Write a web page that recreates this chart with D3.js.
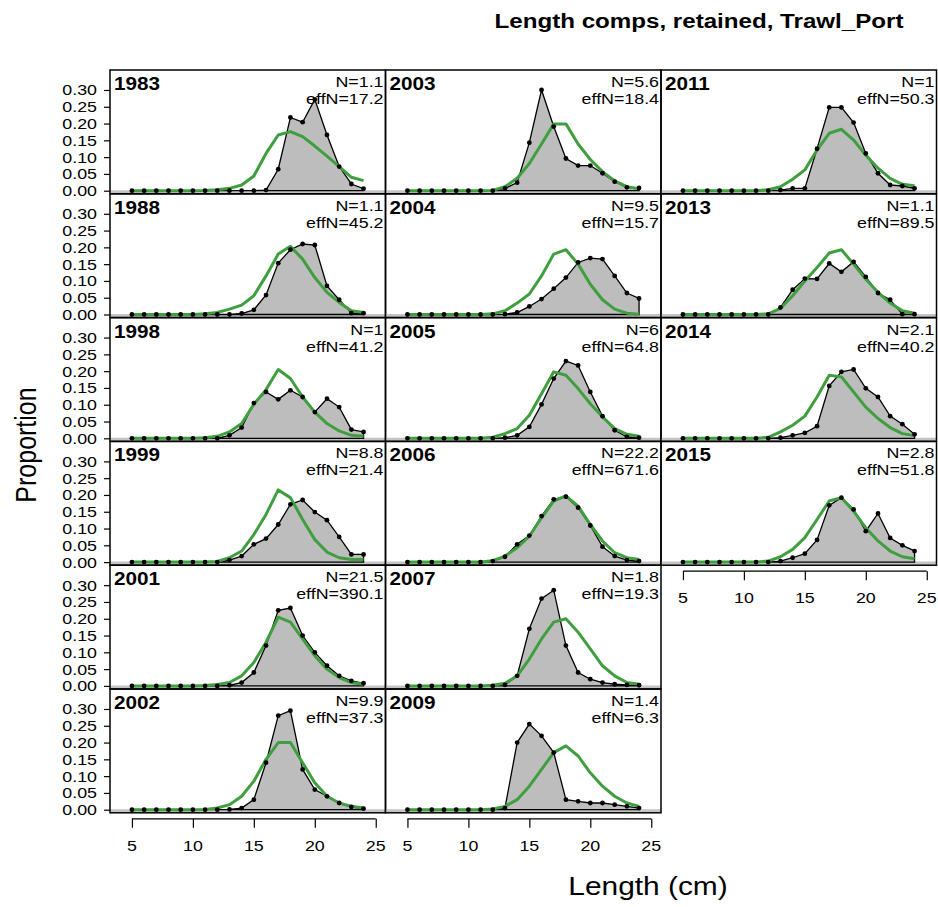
<!DOCTYPE html>
<html><head><meta charset="utf-8">
<script src="https://cdn.jsdelivr.net/npm/d3@7"></script>
<style>body{margin:0;background:#fff}</style>
</head><body>
<svg id="c" width="938" height="907"></svg>
<script>
// ---------- data ----------
const lengths = [5,6,7,8,9,10,11,12,13,14,15,16,17,18,19,20,21,22,23,24];
const yTicks = [0,0.05,0.10,0.15,0.20,0.25,0.30];
const xTicks = [5,10,15,20,25];
const years = [1983,1988,1998,1999,2001,2002,2003,2004,2005,2006,2007,2009,2011,2013,2014,2015];
const nLabels = ["1.1","1.1","1","8.8","21.5","9.9","5.6","9.5","6","22.2","1.8","1.4","1","1.1","2.1","2.8"];
const effNLabels = ["17.2","45.2","41.2","21.4","390.1","37.3","18.4","15.7","64.8","671.6","19.3","6.3","50.3","89.5","40.2","51.8"];
const panelCol = [0,0,0,0,0,0,1,1,1,1,1,1,2,2,2,2];
const panelRow = [0,1,2,3,4,5,0,1,2,3,4,5,0,1,2,3];

const obs1983 = [0,0,0,0,0,0,0,0,0,0,0,0.002,0.064,0.218,0.204,0.272,0.166,0.072,0.020,0.006];
const exp1983 = [0,0,0,0,0,0,0.001,0.003,0.007,0.017,0.044,0.111,0.166,0.176,0.161,0.133,0.103,0.072,0.040,0.030];
const obs1988 = [0,0,0,0,0,0,0,0,0,0.003,0.014,0.058,0.153,0.193,0.210,0.207,0.085,0.044,0.004,0.004];
const exp1988 = [0,0,0,0,0,0,0.002,0.006,0.016,0.028,0.056,0.115,0.180,0.203,0.165,0.110,0.066,0.036,0.011,0.006];
const obs1998 = [0,0,0,0,0,0,0,0,0.009,0.032,0.105,0.138,0.116,0.143,0.123,0.078,0.118,0.093,0.026,0.019];
const exp1998 = [0,0,0,0,0,0,0.002,0.006,0.019,0.044,0.101,0.145,0.205,0.178,0.123,0.078,0.044,0.022,0.009,0.006];
const obs1999 = [0,0,0,0,0,0,0,0,0.006,0.018,0.053,0.070,0.112,0.172,0.185,0.149,0.125,0.075,0.023,0.023];
const exp1999 = [0,0,0,0,0,0,0,0.002,0.013,0.033,0.082,0.142,0.215,0.192,0.127,0.067,0.030,0.013,0.008,0.008];
const obs2001 = [0,0,0,0,0,0,0,0,0.002,0.010,0.040,0.120,0.225,0.232,0.150,0.100,0.060,0.030,0.015,0.008];
const exp2001 = [0,0,0,0,0,0,0.001,0.004,0.010,0.030,0.070,0.130,0.205,0.190,0.140,0.090,0.050,0.025,0.010,0.005];
const obs2002 = [0,0,0,0,0,0,0,0,0.001,0.005,0.030,0.140,0.280,0.295,0.120,0.060,0.040,0.020,0.008,0.003];
const exp2002 = [0,0,0,0,0,0,0.001,0.005,0.015,0.040,0.085,0.150,0.200,0.200,0.140,0.080,0.040,0.020,0.010,0.005];
const obs2003 = [0,0,0,0,0,0,0,0,0.007,0.024,0.143,0.300,0.191,0.096,0.075,0.075,0.052,0.027,0.010,0.008];
const exp2003 = [0,0,0,0,0,0,0,0.001,0.012,0.037,0.081,0.139,0.199,0.199,0.139,0.093,0.057,0.029,0.012,0.006];
const obs2004 = [0,0,0,0,0,0,0,0,0.001,0.006,0.024,0.046,0.077,0.110,0.155,0.168,0.165,0.115,0.064,0.048];
const exp2004 = [0,0,0,0,0,0,0,0.002,0.011,0.034,0.061,0.115,0.180,0.193,0.150,0.090,0.044,0.016,0.004,0.001];
const obs2005 = [0,0,0,0,0,0,0,0,0.002,0.009,0.034,0.101,0.178,0.230,0.217,0.138,0.066,0.024,0.004,0.002];
const exp2005 = [0,0,0,0,0,0,0,0.003,0.014,0.029,0.069,0.133,0.198,0.188,0.148,0.103,0.064,0.029,0.012,0.006];
const obs2006 = [0,0,0,0,0,0,0,0.003,0.016,0.053,0.079,0.137,0.187,0.195,0.162,0.109,0.046,0.018,0.006,0.003];
const exp2006 = [0,0,0,0,0,0,0,0.004,0.018,0.043,0.077,0.132,0.182,0.197,0.167,0.112,0.063,0.028,0.013,0.008];
const obs2007 = [0,0,0,0,0,0,0,0,0.003,0.030,0.170,0.260,0.285,0.120,0.040,0.020,0.010,0.005,0.003,0.002];
const exp2007 = [0,0,0,0,0,0,0,0.002,0.008,0.030,0.080,0.140,0.190,0.200,0.160,0.110,0.060,0.030,0.010,0.005];
const obs2009 = [0,0,0,0,0,0,0,0,0.005,0.200,0.255,0.220,0.170,0.030,0.025,0.020,0.020,0.015,0.010,0.005];
const exp2009 = [0,0,0,0,0,0,0,0.002,0.010,0.030,0.070,0.120,0.170,0.190,0.160,0.110,0.070,0.040,0.020,0.010];
const obs2011 = [0,0,0,0,0,0,0,0,0.002,0.007,0.007,0.125,0.248,0.248,0.203,0.111,0.052,0.017,0.014,0.007];
const exp2011 = [0,0,0,0,0,0,0,0.003,0.012,0.034,0.062,0.121,0.171,0.183,0.151,0.106,0.067,0.037,0.019,0.015];
const obs2013 = [0,0,0,0,0,0,0,0,0.021,0.074,0.107,0.106,0.152,0.127,0.157,0.112,0.064,0.044,0.001,0.001];
const exp2013 = [0,0,0,0,0,0,0,0.002,0.018,0.056,0.100,0.140,0.183,0.193,0.150,0.105,0.066,0.034,0.011,0.004];
const obs2014 = [0,0,0,0,0,0,0,0,0.002,0.009,0.016,0.036,0.156,0.198,0.205,0.149,0.123,0.066,0.042,0.012];
const exp2014 = [0,0,0,0,0,0,0,0.003,0.019,0.039,0.066,0.123,0.188,0.183,0.138,0.093,0.059,0.032,0.014,0.008];
const obs2015 = [0,0,0,0,0,0,0,0,0.003,0.013,0.025,0.066,0.169,0.192,0.157,0.092,0.145,0.072,0.050,0.033];
const exp2015 = [0,0,0,0,0,0,0,0.003,0.016,0.038,0.073,0.127,0.182,0.192,0.152,0.102,0.063,0.033,0.016,0.010];

const obsList = [obs1983,obs1988,obs1998,obs1999,obs2001,obs2002,obs2003,obs2004,obs2005,obs2006,obs2007,obs2009,obs2011,obs2013,obs2014,obs2015];
const expList = [exp1983,exp1988,exp1998,exp1999,exp2001,exp2002,exp2003,exp2004,exp2005,exp2006,exp2007,exp2009,exp2011,exp2013,exp2014,exp2015];

// ---------- layout ----------
const svg = d3.select("#c");
const colLeft = [110, 385.5, 661];
const panelW = 275.5;
const top0 = 70, panelH = 123.8;
const SX = 1.15; // horizontal stretch of text
const font = "Liberation Sans, Arial, sans-serif";
const green = "#3f9f3f";

function txt(g, x, y, s, size, anchor, weight) {
  return g.append("text")
    .attr("transform", `translate(${x},${y}) scale(${SX},1)`)
    .attr("text-anchor", anchor || "start")
    .attr("font-family", font)
    .attr("font-size", size)
    .attr("font-weight", weight || "normal")
    .attr("fill", "#000")
    .text(s);
}

years.forEach((yr, i) => {
  const L = colLeft[panelCol[i]];
  const T = top0 + panelRow[i] * panelH;
  const x = d3.scaleLinear().domain([3.2, 25.8]).range([L, L + panelW]);
  const y = d3.scaleLinear().domain([-0.0092, 0.3595]).range([T + panelH, T]);
  const g = svg.append("g");
  const obs = obsList[i], ex = expList[i];
  const pts = lengths.map((l, k) => [l, obs[k]]);
  const epts = lengths.map((l, k) => [l, ex[k]]);

  g.append("line").attr("x1", L).attr("x2", L + panelW)
    .attr("y1", y(0) + 1).attr("y2", y(0) + 1)
    .attr("stroke", "#c4c4c4").attr("stroke-width", 3);

  const poly = [[lengths[0], 0], ...pts, [lengths[lengths.length - 1], 0]];
  g.append("path")
    .attr("d", d3.line().x(d => x(d[0])).y(d => y(d[1]))(poly) + "Z")
    .attr("fill", "#bdbdbd").attr("stroke", "#000").attr("stroke-width", 1.3);

  g.append("path")
    .attr("d", d3.line().x(d => x(d[0])).y(d => y(d[1]))(epts))
    .attr("fill", "none").attr("stroke", green).attr("stroke-width", 3)
    .attr("stroke-linejoin", "round");

  g.selectAll("circle").data(pts).join("circle")
    .attr("cx", d => x(d[0])).attr("cy", d => y(d[1])).attr("r", 2.4)
    .attr("fill", "#000");

  g.append("rect").attr("x", L).attr("y", T).attr("width", panelW).attr("height", panelH)
    .attr("fill", "none").attr("stroke", "#000").attr("stroke-width", 1.5);

  txt(g, L + 4, T + 20, String(yr), 18, "start", "bold");
  txt(g, L + panelW - 2, T + 17, "N=" + nLabels[i], 15.5, "end");
  txt(g, L + panelW - 2, T + 34, "effN=" + effNLabels[i], 15.5, "end");

  if (panelCol[i] === 0) {
    const ya = g.append("g").attr("transform", `translate(${L},0)`)
      .call(d3.axisLeft(y).tickValues(yTicks).tickSize(6).tickFormat(d3.format(".2f")));
    ya.select(".domain").remove();
    ya.selectAll(".tick line").attr("stroke", "#000").attr("stroke-width", 1.2);
    ya.selectAll(".tick text").remove();
    yTicks.forEach(v => txt(ya, -13, y(v) + 5.5, d3.format(".2f")(v), 15.5, "end"));
  }
  const isBottom = (panelCol[i] < 2 && panelRow[i] === 5) || (panelCol[i] === 2 && panelRow[i] === 3);
  if (isBottom) {
    const xa = g.append("g").attr("transform", `translate(0,${T + panelH + 6})`)
      .call(d3.axisBottom(x).tickValues(xTicks).tickSize(9).tickSizeOuter(0));
    xa.select(".domain").attr("d", `M${x(5)},0H${x(25)}`).attr("stroke", "#000").attr("stroke-width", 1.2);
    xa.selectAll(".tick line").attr("stroke", "#000").attr("stroke-width", 1.2);
    xa.selectAll(".tick text").remove();
    xTicks.forEach(v => txt(xa, x(v), 32, String(v), 15.5, "middle"));
  }
});

txt(svg, 699, 28, "Length comps, retained, Trawl_Port", 21, "middle", "bold");
txt(svg, 648, 895, "Length (cm)", 26, "middle");
svg.append("text")
  .attr("text-anchor", "middle").attr("font-family", font).attr("font-size", 25)
  .attr("transform", "translate(36,445) scale(1.15,1) rotate(-90)")
  .text("Proportion");
</script>
</body></html>
